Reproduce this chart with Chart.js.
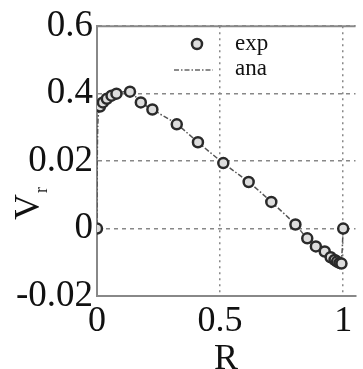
<html>
	<head>
		<script src="https://cdn.jsdelivr.net/npm/chart.js"></script>
		<style>
			body { margin: 0; background: #fff; overflow: hidden; }
			#wrap { width: 363px; height: 369px; }
		</style>
	</head>
	<body>
		<div id="wrap"><canvas id="vrChart" width="363" height="369"></canvas></div>

		<script>
			// measured points (R, Vr)
			const expR  = [0, 0.012, 0.024, 0.04, 0.059, 0.079, 0.134, 0.178, 0.225, 0.324, 0.41, 0.513, 0.616, 0.708, 0.806, 0.854, 0.889, 0.925, 0.949, 0.965, 0.975, 0.985, 0.993, 1.0];
			const expVr = [0, 0.0362, 0.0374, 0.0385, 0.0394, 0.0400, 0.0406, 0.0374, 0.0353, 0.0309, 0.0256, 0.0194, 0.0138, 0.0079, 0.0012, -0.0029, -0.0053, -0.0068, -0.0085, -0.0093, -0.0098, -0.0102, -0.0104, 0];
			// analytic curve
			const anaR  = [0, 0.003, 0.012, 0.04, 0.08, 0.134, 0.178, 0.225, 0.324, 0.41, 0.513, 0.616, 0.708, 0.806, 0.854, 0.925, 0.972, 0.99, 1.0];
			const anaVr = [0, 0.030, 0.0362, 0.0385, 0.0400, 0.0406, 0.0374, 0.0353, 0.0309, 0.0256, 0.0194, 0.0138, 0.0079, 0.0012, -0.0029, -0.0068, -0.0097, -0.0103, 0];
			const xTicks = [0, 0.5, 1];
			const yTicks = [-0.02, 0, 0.02, 0.04, 0.06];
			const yTickLabels = ['-0.02', '0', '0.02', '0.4', '0.6'];

			const serif = '"Liberation Serif", "DejaVu Serif", serif';

			const frame = {
				id: 'frame',
				afterDraw(chart) {
					const { ctx, chartArea: a } = chart;
					ctx.save();
					// top border
					ctx.strokeStyle = '#888';
					ctx.lineWidth = 2;
					ctx.beginPath();
					ctx.moveTo(a.left, a.top);
					ctx.lineTo(a.right, a.top);
					ctx.stroke();

					// legend
					ctx.fillStyle = '#111';
					ctx.font = '23px ' + serif;
					ctx.textBaseline = 'middle';
					ctx.fillText('exp', 235, 44);
					ctx.fillText('ana', 235, 69);
					ctx.beginPath();
					ctx.arc(197, 44, 5, 0, Math.PI * 2);
					ctx.fillStyle = '#ddd';
					ctx.fill();
					ctx.lineWidth = 2.5;
					ctx.strokeStyle = '#2a2a2a';
					ctx.stroke();
					ctx.setLineDash([5, 2, 1.5, 2]);
					ctx.lineWidth = 1.5;
					ctx.strokeStyle = '#666';
					ctx.beginPath();
					ctx.moveTo(174, 70);
					ctx.lineTo(213, 70);
					ctx.stroke();
					ctx.setLineDash([]);

					// x title
					ctx.fillStyle = '#111';
					ctx.textAlign = 'center';
					ctx.textBaseline = 'alphabetic';
					ctx.font = '36px ' + serif;
					ctx.fillText('R', 226, 369);

					// y title: V with subscript r
					ctx.translate(39, 207);
					ctx.rotate(-Math.PI / 2);
					ctx.font = '36px ' + serif;
					ctx.fillText('V', 0, 0);
					ctx.font = '18px ' + serif;
					ctx.fillText('r', 17, 8);
					ctx.restore();
				}
			};

			const ctx = document.getElementById('vrChart').getContext('2d');
			const chart = new Chart(ctx, {
				type: 'scatter',
				data: {
					datasets: [
						{
							label: 'ana',
							data: anaR.map((r, i) => ({ x: r, y: anaVr[i] })),
							showLine: true,
							borderColor: '#555',
							borderWidth: 1.5,
							borderDash: [5, 2, 1.5, 2],
							pointRadius: 0,
							tension: 0.3,
							order: 2
						},
						{
							label: 'exp',
							data: expR.map((r, i) => ({ x: r, y: expVr[i] })),
							showLine: false,
							pointRadius: 5,
							pointBorderWidth: 2.5,
							pointBorderColor: '#2a2a2a',
							pointBackgroundColor: '#ddd',
							order: 1
						}
					]
				},
				options: {
					responsive: false,
					animation: false,
					layout: { padding: { top: 24, right: 0, left: 0, bottom: 0 } },
					plugins: {
						legend: { display: false },
						tooltip: { enabled: false }
					},
					scales: {
						x: {
							type: 'linear',
							min: 0,
							max: 1.05,
							afterBuildTicks: s => { s.ticks = xTicks.map(v => ({ value: v })); },
							afterFit: s => { s.height = 73; },
							grid: { color: '#888', lineWidth: 1.5, drawTicks: false },
							border: { color: '#888', width: 2, dash: [2, 4] },
							ticks: {
								color: '#111',
								font: { family: serif, size: 36 },
								padding: 4,
								maxRotation: 0,
								callback: v => String(v)
							}
						},
						y: {
							type: 'linear',
							min: -0.02,
							max: 0.06,
							afterBuildTicks: s => { s.ticks = yTicks.map(v => ({ value: v })); },
							afterFit: s => { s.width = 97; },
							grid: { color: '#888', lineWidth: 1.5, drawTicks: false },
							border: { color: '#888', width: 2, dash: [4, 4] },
							ticks: {
								color: '#111',
								font: { family: serif, size: 37 },
								padding: 4,
								callback: (v, i) => yTickLabels[i]
							}
						}
					}
				},
				plugins: [frame]
			});
		</script>
	</body>
</html>
